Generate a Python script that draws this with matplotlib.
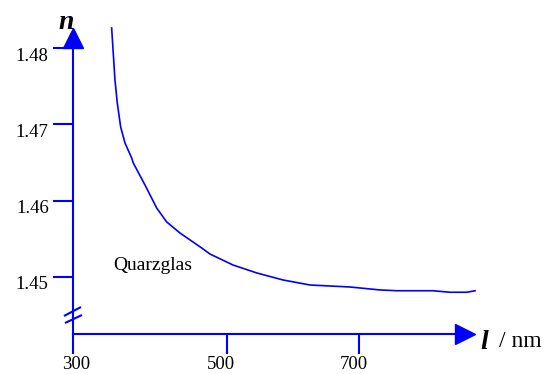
import numpy as np
import matplotlib
matplotlib.use("Agg")
import matplotlib.pyplot as plt
from matplotlib.transforms import ScaledTranslation

# refractive index of quartz glass vs wavelength
wavelength = [326.5, 328.9, 331.5, 335.0, 340.1, 346.6, 356.7, 359.1, 376.8, 394.4,
              409.5, 429.6, 462.3, 474.8, 509.5, 545.7, 584.9, 625.6, 685.9,
              731.4, 756.7, 811.0, 836.7, 862.4, 874.5]
n_index = [1.48262, 1.47935, 1.47581, 1.47280, 1.46965, 1.46756, 1.46559, 1.46494,
           1.46205, 1.45904, 1.45721, 1.45576, 1.45380, 1.45301, 1.45157, 1.45052,
           1.44961, 1.44895, 1.44869, 1.44830, 1.44820, 1.44820, 1.44800, 1.44800,
           1.44820]

y_ticks = [1.45, 1.46, 1.47, 1.48]
y_ticklabels = ["1.45", "1.46", "1.47", "1.48"]
x_ticks = [268.2, 500, 700]          # the axis origin is labelled 300
x_ticklabels = ["300", "500", "700"]

BLUE = "#0000ff"
SERIF = "Liberation Serif"

x0, y0 = 268.2, 1.4425               # where the axes cross
x_arrow, y_arrow = 858.7, 1.48125    # arrow head centres

fig = plt.figure(figsize=(5.58, 3.74), dpi=100)
ax = fig.add_axes([0, 0, 1, 1])
ax.set_xlim(158.1, 999.7)
ax.set_ylim(1.43729, 1.48629)
ax.patch.set_visible(False)

for s in ["top", "right"]:
    ax.spines[s].set_visible(False)
ax.spines["left"].set_position(("data", x0))
ax.spines["bottom"].set_position(("data", y0))
ax.spines["left"].set_bounds(y0, y_arrow)
ax.spines["bottom"].set_bounds(x0, x_arrow)
for s in ["left", "bottom"]:
    ax.spines[s].set_color(BLUE)
    ax.spines[s].set_linewidth(1.5)

ax.set_yticks(y_ticks)
ax.set_yticklabels(y_ticklabels)
ax.set_xticks(x_ticks)
ax.set_xticklabels(x_ticklabels)
ax.tick_params(axis="both", direction="out", length=14.5, width=1.5, color=BLUE,
               labelsize=13.5, pad=3)
ax.tick_params(axis="x", pad=1)
for lab in ax.get_yticklabels() + ax.get_xticklabels():
    lab.set_fontfamily(SERIF)

# small hand placed offsets of the tick labels (pixels)
for lab in ax.get_yticklabels():
    lab.set_transform(lab.get_transform() + ScaledTranslation(0, -0.06, fig.dpi_scale_trans))
for lab, dx in zip(ax.get_xticklabels(), [3.5, -6, -5]):
    lab.set_transform(lab.get_transform() + ScaledTranslation(dx / 100, 0, fig.dpi_scale_trans))

# arrow heads
ax.plot([x0], [y_arrow], marker="^", markersize=13.7, color=BLUE, clip_on=False)
ax.plot([x_arrow], [y0], marker=">", markersize=14.5, color=BLUE, clip_on=False)

# axis break marks
px, py = 1 / 0.663, 1 / 7633
yb = 1.44502
for (a, b), (c, d) in [((-9, -1), (8, 8)), ((-8, -8), (9, 0))]:
    ax.plot([x0 + a * px, x0 + c * px], [yb + b * py, yb + d * py],
            color=BLUE, lw=1.5, solid_capstyle="butt")

# curve
ax.plot(wavelength, n_index, color=BLUE, lw=1.2)

ax.text(328.5, 1.4509, "Quarzglas", fontfamily=SERIF, fontsize=14, va="baseline")
ax.text(245.6, 1.4825, "n", fontfamily=SERIF, fontsize=20, fontweight="bold",
        fontstyle="italic", va="baseline")
ax.text(882, 1.44057, "l", fontfamily=SERIF, fontsize=20, fontweight="bold",
        fontstyle="italic", va="baseline")
ax.text(910.7, 1.44083, "/ nm", fontfamily=SERIF, fontsize=17, va="baseline")

fig.savefig("out.png", dpi=100)
